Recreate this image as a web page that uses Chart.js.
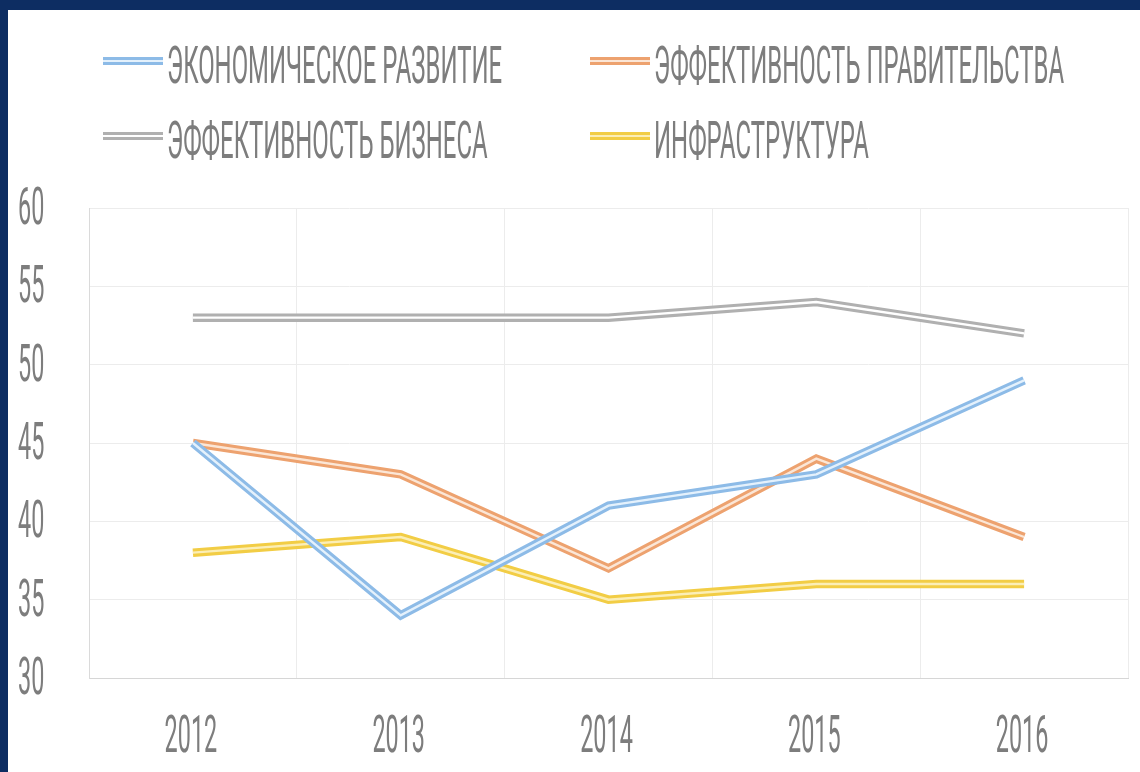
<!DOCTYPE html>
<html>
<head>
<meta charset="utf-8">
<script src="https://cdn.jsdelivr.net/npm/chart.js@4.4.1/dist/chart.umd.min.js"></script>
<style>
  html, body { margin: 0; padding: 0; }
  body { width: 1140px; height: 772px; background: #0d2d62; overflow: hidden; position: relative; }
  #panel { position: absolute; left: 8px; top: 10px; width: 1132px; height: 762px; background: #fff; }
  #chart { position: absolute; left: 0; top: 0; }
  #legend { position: absolute; left: 95px; top: 31px; display: grid;
    grid-template-columns: 487px 487px; grid-auto-rows: 75px; }
  .item { position: relative; height: 40px; }
  .swatch { position: absolute; left: 0; top: 16px; width: 60px; height: 8px; }
  .label { position: absolute; left: 64px; top: -6px; white-space: nowrap;
    font: 400 52px Roboto, "DejaVu Sans", sans-serif; color: #7d7d7d;
    transform: scaleX(0.46); transform-origin: 0 0; }
</style>
</head>
<body>
<div id="panel">
  <canvas id="chart" width="1132" height="762"></canvas>
  <div id="legend"></div>
</div>
<script>
const years = ["2012", "2013", "2014", "2015", "2016"];
const seriesNames = [
  "ЭКОНОМИЧЕСКОЕ РАЗВИТИЕ",
  "ЭФФЕКТИВНОСТЬ ПРАВИТЕЛЬСТВА",
  "ЭФФЕКТИВНОСТЬ БИЗНЕСА",
  "ИНФРАСТРУКТУРА"
];
const econDev = [45, 34, 41, 43, 49];
const govEff = [45, 43, 37, 44, 39];
const bizEff = [53, 53, 53, 54, 52];
const infra = [38, 39, 35, 36, 36];
const yTicks = [30, 35, 40, 45, 50, 55, 60];

const colors = ["#8dbbe7", "#eda26f", "#b0b0b0", "#f2cd45"];
const cores = ["#e4f1fc", "#fbe6d6", "#ffffff", "#fbeeb6"];
const values = [econDev, govEff, bizEff, infra];

const TICK_FONT = "400 52px Roboto, 'DejaVu Sans', sans-serif";
const SQUEEZE = 0.45;

// light core on top of each line -> "double line" look
const doubleLine = {
  id: "doubleLine",
  afterDatasetDraw(chart, args) {
    const pts = args.meta.data;
    if (!pts.length) return;
    const ctx = chart.ctx;
    ctx.save();
    ctx.strokeStyle = cores[args.index];
    ctx.lineWidth = 2.4;
    ctx.lineJoin = "miter";
    ctx.beginPath();
    pts.forEach((p, i) => i ? ctx.lineTo(p.x, p.y) : ctx.moveTo(p.x, p.y));
    ctx.stroke();
    ctx.restore();
  }
};

// condensed tick labels, positioned from the scales
const narrowTicks = {
  id: "narrowTicks",
  afterDraw(chart) {
    const ctx = chart.ctx;
    const xs = chart.scales.x, ys = chart.scales.y;
    ctx.save();
    ctx.font = TICK_FONT;
    ctx.fillStyle = "#7d7d7d";
    ctx.textBaseline = "middle";
    ys.ticks.forEach((t, i) => {
      ctx.save();
      ctx.translate(10, ys.getPixelForTick(i) + 3);
      ctx.scale(SQUEEZE, 1);
      ctx.textAlign = "left";
      ctx.fillText(String(t.value), 0, 0);
      ctx.restore();
    });
    xs.ticks.forEach((t, i) => {
      ctx.save();
      ctx.translate(xs.getPixelForTick(i) - 2, 729);
      ctx.scale(SQUEEZE, 1);
      ctx.textAlign = "center";
      ctx.fillText(xs.getLabelForValue(t.value), 0, 0);
      ctx.restore();
    });
    ctx.restore();
  }
};

const chart = new Chart(document.getElementById("chart"), {
  type: "line",
  data: {
    labels: years,
    datasets: seriesNames.map((name, i) => ({
      label: name,
      data: values[i],
      borderColor: colors[i],
      backgroundColor: colors[i],
      borderWidth: 8.5,
      borderJoinStyle: "miter",
      pointRadius: 0,
      tension: 0
    }))
  },
  options: {
    responsive: false,
    animation: false,
    layout: { padding: { left: 81, right: 12, top: 198, bottom: 94 } },
    plugins: { legend: { display: false }, tooltip: { enabled: false } },
    scales: {
      x: {
        offset: true,
        grid: { offset: true, color: "#ececec", drawTicks: false },
        border: { color: "#d6d6d6" },
        ticks: { display: false }
      },
      y: {
        min: yTicks[0],
        max: yTicks[yTicks.length - 1],
        ticks: { display: false, stepSize: 5 },
        grid: { color: "#ececec", drawTicks: false },
        border: { color: "#dadada" }
      }
    }
  },
  plugins: [doubleLine, narrowTicks]
});

// html legend built from the datasets
const legendEl = document.getElementById("legend");
chart.data.datasets.forEach((ds, i) => {
  const item = document.createElement("div");
  item.className = "item";
  const sw = document.createElement("span");
  sw.className = "swatch";
  sw.style.background = `linear-gradient(to bottom, ${ds.borderColor} 0 36%, ${cores[i]} 36% 64%, ${ds.borderColor} 64% 100%)`;
  const lab = document.createElement("span");
  lab.className = "label";
  lab.textContent = ds.label;
  item.appendChild(sw);
  item.appendChild(lab);
  legendEl.appendChild(item);
});
</script>
</body>
</html>
